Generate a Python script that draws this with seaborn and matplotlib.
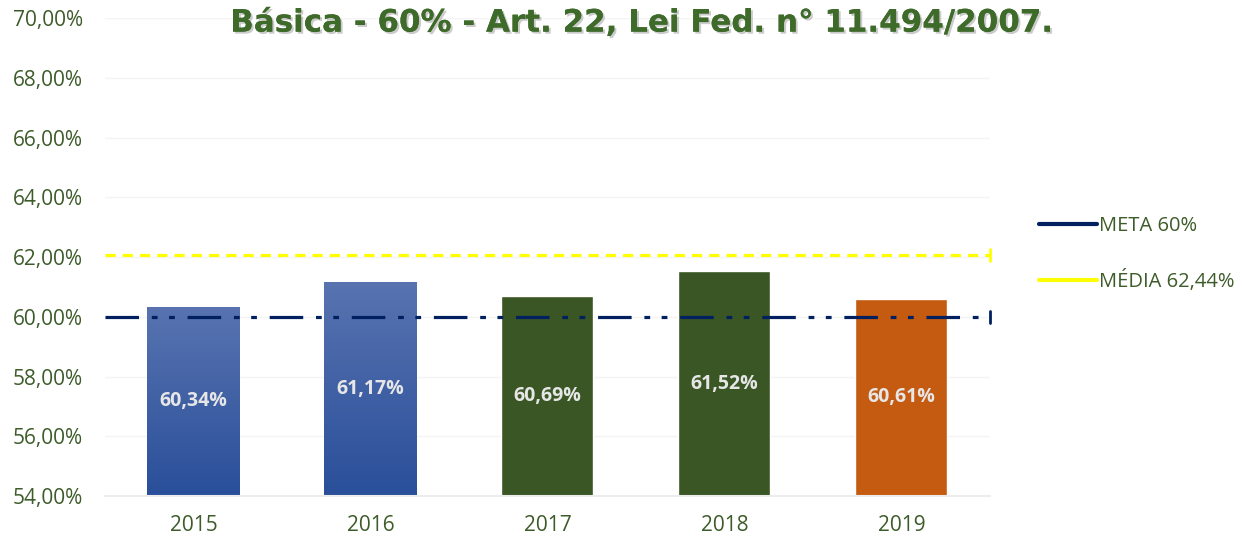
import numpy as np
import pandas as pd
import seaborn as sns
import matplotlib.pyplot as plt
import matplotlib.patheffects as pe
from matplotlib.colors import LinearSegmentedColormap
from matplotlib.lines import Line2D

# Data
anos = ['2015', '2016', '2017', '2018', '2019']
percentuais = [60.34, 61.17, 60.69, 61.52, 60.61]
rotulos = ['60,34%', '61,17%', '60,69%', '61,52%', '60,61%']
meta = 60.0
media = 62.07
legenda = ['META 60%', 'MÉDIA 62,44%']
titulo = 'Básica - 60% - Art. 22, Lei Fed. n° 11.494/2007.'

cores = ['#3f5fa8', '#3f5fa8', '#3a5624', '#3a5624', '#c55a11']
verde_txt = '#3d5c2a'

df = pd.DataFrame({'Ano': anos, 'Valor': percentuais})

sns.set_style('white')
plt.rcParams['font.family'] = ['Open Sans', 'DejaVu Sans']

fig = plt.figure(figsize=(12.42, 5.38), dpi=100)
ax = fig.add_axes([0.0845, 0.078, 0.7125, 0.8885])

sns.barplot(data=df, x='Ano', y='Valor', hue='Ano', palette=cores,
            saturation=1, width=0.52, legend=False, ax=ax)
ax.set_ylim(54, 70)
ax.set_xlim(-0.5, 4.5)

# bars start at 54 (axis base)
for p in ax.patches:
    p.set_y(54)
    p.set_height(p.get_height() - 54)

# gradient on blue bars
grad = LinearSegmentedColormap.from_list('g', ['#2a4f9a', '#5873b0'])
for p in ax.patches[:2]:
    x0 = p.get_x()
    w = p.get_width()
    top = p.get_y() + p.get_height()
    img = ax.imshow(np.linspace(0, 1, 100).reshape(-1, 1), cmap=grad,
                    extent=[x0, x0 + w, 54, top], origin='lower',
                    aspect='auto', zorder=p.get_zorder() + 0.1)
    img.set_clip_path(p)

# light grid
ax.set_yticks(np.arange(54, 70.1, 2))
ax.yaxis.grid(True, color='#f4f4f4', linewidth=1)
ax.set_axisbelow(True)
for s in ['top', 'right', 'left']:
    ax.spines[s].set_visible(False)
ax.spines['bottom'].set_color('#ececec')
ax.spines['bottom'].set_linewidth(1.5)

ax.set_yticklabels([f'{v:.2f}%'.replace('.', ',') for v in np.arange(54, 70.1, 2)])
ax.tick_params(axis='both', length=0, labelsize=15, colors=verde_txt)
ax.tick_params(axis='y', pad=16)
ax.tick_params(axis='x', pad=14)
ax.set_xlabel('')
ax.set_ylabel('')

# reference lines
ax.plot([-0.5, 4.5], [meta, meta], color='#002060', linewidth=2.3,
        dashes=(10.5, 4, 1.8, 3.6, 1.8, 4), zorder=5)
ax.plot([-0.5, 4.5], [media, media], color='#ffff00', linewidth=2.3,
        dashes=(3.2, 2.2), zorder=5)
ax.plot([4.5, 4.5], [meta - 0.2, meta + 0.2], color='#002060', lw=2, zorder=5, clip_on=False)
ax.plot([4.5, 4.5], [media - 0.2, media + 0.2], color='#ffff00', lw=2, zorder=5, clip_on=False)

# value labels
for i, (v, r) in enumerate(zip(percentuais, rotulos)):
    ax.text(i, (v + 54) / 2, r, ha='center', va='center', fontsize=14,
            fontweight='bold', color='#e6e6e6', zorder=6)

# legend
handles = [Line2D([], [], color='#002060', lw=3, solid_capstyle='round'),
           Line2D([], [], color='#ffff00', lw=3, solid_capstyle='round')]
leg = fig.legend(handles, legenda, loc='upper left', bbox_to_anchor=(0.822, 0.633),
                 frameon=False, fontsize=14.5, handlelength=2.9, handletextpad=0.1,
                 labelspacing=1.7)
for t in leg.get_texts():
    t.set_color(verde_txt)

fig.text(0.517, 0.957, titulo, ha='center', va='center', fontsize=22.3,
         fontweight='bold', color='#3e6b2a', family='DejaVu Sans',
         path_effects=[pe.withSimplePatchShadow(offset=(1.5, -1.5), shadow_rgbFace='#999999', alpha=0.5),
                       pe.Normal()])

fig.savefig('out.png', dpi=100)
